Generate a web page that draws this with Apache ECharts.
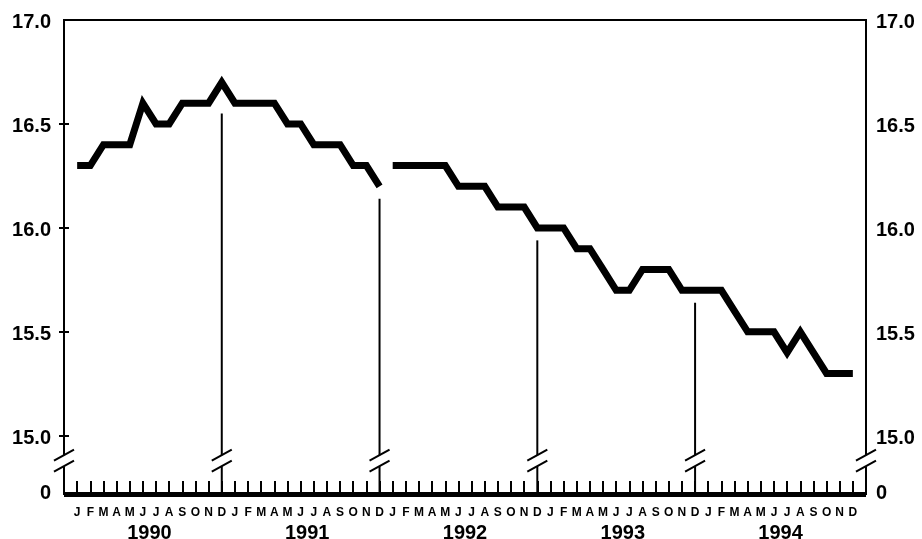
<!DOCTYPE html>
<html>
<head>
<meta charset="utf-8">
<script src="https://cdn.jsdelivr.net/npm/echarts@6/dist/echarts.min.js"></script>
<style>
  html, body { margin: 0; padding: 0; background: #fff; }
  #chart { width: 922px; height: 539px; }
</style>
</head>
<body>
<div id="chart"></div>
<script>
// monthly values, one array per year
const years = ['1990', '1991', '1992', '1993', '1994'];
const monthLetters = ['J', 'F', 'M', 'A', 'M', 'J', 'J', 'A', 'S', 'O', 'N', 'D'];
const v1990 = [16.3, 16.3, 16.4, 16.4, 16.4, 16.6, 16.5, 16.5, 16.6, 16.6, 16.6, 16.7];
const v1991 = [16.6, 16.6, 16.6, 16.6, 16.5, 16.5, 16.4, 16.4, 16.4, 16.3, 16.3, 16.2];
const v1992 = [16.3, 16.3, 16.3, 16.3, 16.3, 16.2, 16.2, 16.2, 16.1, 16.1, 16.1, 16.0];
const v1993 = [16.0, 16.0, 15.9, 15.9, 15.8, 15.7, 15.7, 15.8, 15.8, 15.8, 15.7, 15.7];
const v1994 = [15.7, 15.7, 15.6, 15.5, 15.5, 15.5, 15.4, 15.5, 15.4, 15.3, 15.3, 15.3];

// year-end drop lines (month index, top value)
const dropMonths = [12, 24, 36, 48];
const dropTops = [16.55, 16.14, 15.94, 15.64];

// y ticks / labels; bottom of axis stands for 0 (broken scale)
const yTicks = [15.0, 15.5, 16.0, 16.5, 17.0];
const yBottom = 14.72;
const yBreak = 14.88;
const labelNudge = 0.012; // labels sit a touch below their ticks
const xMax = 61;

const toPoints = (arrs, start) => {
  const out = [];
  arrs.forEach((arr, k) => arr.forEach((v, i) => out.push([start + k * 12 + i, v])));
  return out;
};
const part1 = toPoints([v1990, v1991], 1);
const part2 = toPoints([v1992, v1993, v1994], 25);

const monthPos = [];
for (let i = 1; i <= 60; i++) monthPos.push(i);
const yearPos = years.map((y, i) => 6.5 + i * 12);
const breakPos = [0].concat(dropMonths, [xMax]);

const font = 'Liberation Sans';
const chart = echarts.init(document.getElementById('chart'));

const yAxisBase = (pos, margin) => ({
  type: 'value',
  position: pos,
  min: yBottom,
  max: 17,
  splitLine: { show: false },
  axisLine: { show: false },
  axisTick: {
    show: true, inside: true, length: 5,
    customValues: yTicks.slice(0, 4),
    lineStyle: { color: '#000', width: 2 }
  },
  axisLabel: {
    customValues: [yBottom + 0.003].concat(yTicks.map(v => v - labelNudge)),
    formatter: v => (v < 14.9 ? '0' : v.toFixed(1)),
    color: '#000', fontFamily: font, fontWeight: 'bold', fontSize: 20,
    margin: margin
  }
});

chart.setOption({
  animation: false,
  grid: {
    left: 64, right: 56, top: 20, bottom: 45,
    containLabel: false, outerBoundsMode: 'none',
    show: true, borderColor: '#000', borderWidth: 2, backgroundColor: '#fff'
  },
  xAxis: [{
    type: 'value', min: 0, max: xMax,
    splitLine: { show: false },
    axisLine: { show: true, onZero: false, lineStyle: { color: '#000', width: 5, cap: 'butt' } },
    axisTick: {
      show: true, inside: true, length: 13,
      customValues: monthPos,
      lineStyle: { color: '#000', width: 2 }
    },
    axisLabel: {
      customValues: monthPos,
      formatter: v => monthLetters[(v - 1) % 12],
      color: '#000', fontFamily: font, fontWeight: 'bold', fontSize: 12,
      margin: 13
    }
  }, {
    type: 'value', min: 0, max: xMax, position: 'bottom',
    splitLine: { show: false },
    axisLine: { show: false },
    axisTick: { show: false },
    axisLabel: {
      customValues: yearPos,
      formatter: v => years[Math.round((v - 6.5) / 12)],
      color: '#000', fontFamily: font, fontWeight: 'bold', fontSize: 20,
      margin: 29
    }
  }],
  yAxis: [yAxisBase('left', 13), yAxisBase('right', 10)],
  series: [{
    type: 'custom',
    coordinateSystem: 'cartesian2d',
    data: dropMonths.map((m, i) => [m, dropTops[i]]),
    z: 3,
    renderItem: (params, api) => {
      const top = api.coord([api.value(0), api.value(1)]);
      const bot = api.coord([api.value(0), yBottom]);
      return {
        type: 'line',
        shape: { x1: top[0], y1: top[1], x2: bot[0], y2: bot[1] },
        style: { stroke: '#000', lineWidth: 2 }
      };
    }
  }, {
    type: 'line', data: part1, xAxisIndex: 0, yAxisIndex: 0,
    showSymbol: false, z: 5,
    lineStyle: { color: '#000', width: 7, join: 'miter', cap: 'butt' }
  }, {
    type: 'line', data: part2, xAxisIndex: 0, yAxisIndex: 0,
    showSymbol: false, z: 5,
    lineStyle: { color: '#000', width: 7, join: 'miter', cap: 'butt' }
  }, {
    // break marks on the axes and drop lines
    type: 'custom',
    coordinateSystem: 'cartesian2d',
    data: breakPos.map(x => [x, yBreak]),
    z: 6,
    renderItem: (params, api) => {
      const c = api.coord([api.value(0), api.value(1)]);
      const x = c[0], y = c[1];
      const s = { stroke: '#000', lineWidth: 2 };
      return {
        type: 'group',
        children: [
          { type: 'rect', shape: { x: x - 3, y: y - 5.5, width: 6, height: 11 }, style: { fill: '#fff' } },
          { type: 'line', shape: { x1: x - 10, y1: y, x2: x + 10, y2: y - 11 }, style: s },
          { type: 'line', shape: { x1: x - 10, y1: y + 11, x2: x + 10, y2: y }, style: s }
        ]
      };
    }
  }]
});
</script>
</body>
</html>
